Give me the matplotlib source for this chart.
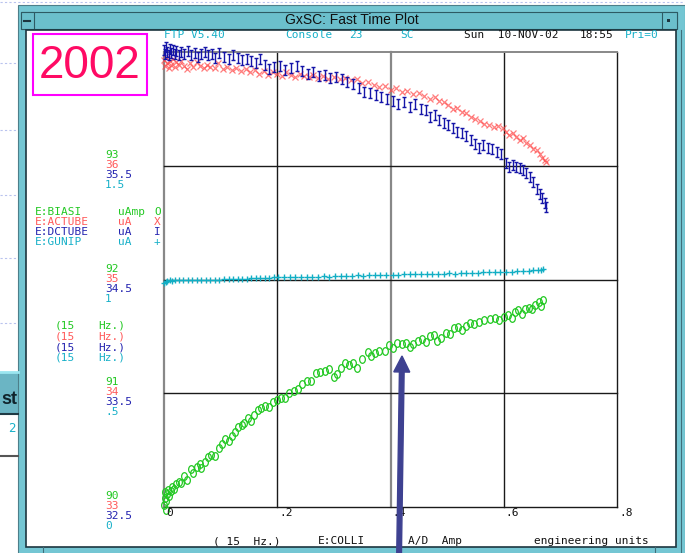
import matplotlib
matplotlib.use("Agg")

import matplotlib.pyplot as plt
from matplotlib.patches import Rectangle, FancyArrow
from matplotlib.path import Path
from matplotlib.transforms import blended_transform_factory, offset_copy, Affine2D

# ---- data ----
x_ticks = [0, 0.2, 0.4, 0.6, 0.8]
x_tick_labels = ["0", ".2", ".4", ".6", ".8"]

biasi_x = [0.000, 0.001, 0.002, 0.003, 0.004, 0.005, 0.007, 0.009, 0.012, 0.015, 0.018, 0.022,
           0.026, 0.030, 0.036, 0.041, 0.047, 0.052, 0.058, 0.063, 0.066, 0.072, 0.078, 0.083,
           0.090, 0.097, 0.103, 0.108, 0.114, 0.120, 0.125, 0.131, 0.137, 0.142, 0.148, 0.153,
           0.159, 0.166, 0.172, 0.178, 0.185, 0.192, 0.199, 0.206, 0.214, 0.221, 0.229, 0.236,
           0.244, 0.252, 0.260, 0.268, 0.276, 0.284, 0.291, 0.300, 0.306, 0.313, 0.320, 0.327,
           0.334, 0.340, 0.350, 0.360, 0.366, 0.372, 0.380, 0.390, 0.398, 0.405, 0.412, 0.420,
           0.428, 0.434, 0.440, 0.448, 0.455, 0.462, 0.470, 0.476, 0.482, 0.490, 0.498, 0.505,
           0.512, 0.520, 0.527, 0.533, 0.540, 0.548, 0.556, 0.565, 0.575, 0.585, 0.592, 0.600,
           0.608, 0.614, 0.620, 0.626, 0.632, 0.638, 0.644, 0.650, 0.656, 0.662, 0.666, 0.669]
biasi_y = [90.02, 90.08, 90.13, 89.97, 90.05, 90.11, 90.15, 90.10, 90.14, 90.18, 90.16, 90.20,
           90.22, 90.21, 90.27, 90.24, 90.33, 90.30, 90.35, 90.38, 90.34, 90.40, 90.44, 90.46,
           90.45, 90.52, 90.55, 90.60, 90.58, 90.62, 90.66, 90.70, 90.72, 90.74, 90.78, 90.76,
           90.81, 90.85, 90.87, 90.89, 90.88, 90.92, 90.94, 90.96, 90.96, 91.00, 91.02, 91.04,
           91.08, 91.11, 91.11, 91.18, 91.19, 91.20, 91.21, 91.14, 91.17, 91.22, 91.27, 91.25,
           91.27, 91.22, 91.30, 91.36, 91.33, 91.35, 91.37, 91.37, 91.42, 91.40, 91.44, 91.43,
           91.44, 91.41, 91.43, 91.46, 91.48, 91.45, 91.50, 91.51, 91.46, 91.49, 91.53, 91.52,
           91.57, 91.58, 91.56, 91.59, 91.62, 91.61, 91.63, 91.64, 91.65, 91.66, 91.64, 91.67,
           91.69, 91.66, 91.71, 91.73, 91.70, 91.74, 91.75, 91.74, 91.78, 91.80, 91.77, 91.82]

actube_x = [0.000, 0.002, 0.004, 0.006, 0.008, 0.010, 0.013, 0.016, 0.019, 0.022, 0.026, 0.030,
            0.035, 0.040, 0.046, 0.052, 0.058, 0.064, 0.070, 0.076, 0.082, 0.090, 0.096, 0.104,
            0.112, 0.120, 0.128, 0.136, 0.144, 0.152, 0.160, 0.168, 0.176, 0.184, 0.192, 0.200,
            0.208, 0.216, 0.224, 0.232, 0.240, 0.248, 0.256, 0.264, 0.272, 0.280, 0.290, 0.300,
            0.310, 0.320, 0.330, 0.340, 0.350, 0.360, 0.370, 0.380, 0.390, 0.400, 0.410, 0.420,
            0.430, 0.440, 0.450, 0.460, 0.470, 0.478, 0.486, 0.494, 0.502, 0.510, 0.518, 0.526,
            0.534, 0.542, 0.550, 0.558, 0.566, 0.574, 0.582, 0.590, 0.598, 0.604, 0.610, 0.616,
            0.622, 0.628, 0.634, 0.640, 0.646, 0.652, 0.658, 0.664, 0.668, 0.672, 0.675]
actube_y = [36.93, 36.88, 36.95, 36.90, 36.86, 36.92, 36.89, 36.94, 36.87, 36.91, 36.89, 36.92,
            36.88, 36.85, 36.90, 36.87, 36.91, 36.88, 36.86, 36.89, 36.87, 36.86, 36.90, 36.85,
            36.87, 36.84, 36.86, 36.83, 36.85, 36.82, 36.84, 36.81, 36.83, 36.80, 36.82, 36.81,
            36.79, 36.82, 36.80, 36.78, 36.81, 36.79, 36.78, 36.80, 36.77, 36.79, 36.76, 36.78,
            36.76, 36.77, 36.75, 36.76, 36.73, 36.74, 36.71, 36.69, 36.70, 36.67, 36.68, 36.65,
            36.66, 36.63, 36.64, 36.61, 36.59, 36.60, 36.57, 36.56, 36.53, 36.50, 36.51, 36.47,
            36.46, 36.43, 36.41, 36.39, 36.37, 36.36, 36.34, 36.35, 36.33, 36.30, 36.27, 36.29,
            36.25, 36.23, 36.24, 36.20, 36.18, 36.15, 36.14, 36.10, 36.07, 36.05, 36.03]

dctube_x = [0.000, 0.002, 0.004, 0.006, 0.008, 0.010, 0.013, 0.016, 0.019, 0.022, 0.026, 0.030,
            0.036, 0.042, 0.048, 0.054, 0.060, 0.066, 0.072, 0.078, 0.084, 0.090, 0.098, 0.106,
            0.114, 0.122, 0.130, 0.138, 0.146, 0.154, 0.162, 0.170, 0.178, 0.186, 0.194, 0.204,
            0.214, 0.224, 0.234, 0.244, 0.254, 0.264, 0.274, 0.284, 0.294, 0.304, 0.314, 0.324,
            0.334, 0.344, 0.354, 0.364, 0.374, 0.384, 0.394, 0.404, 0.414, 0.424, 0.434, 0.444,
            0.454, 0.462, 0.470, 0.478, 0.486, 0.494, 0.502, 0.510, 0.518, 0.526, 0.534, 0.542,
            0.550, 0.556, 0.564, 0.572, 0.580, 0.588, 0.596, 0.604, 0.610, 0.616, 0.622, 0.628,
            0.634, 0.640, 0.646, 0.652, 0.658, 0.664, 0.668, 0.672, 0.675]
dctube_y = [36.52, 36.48, 36.54, 36.50, 36.47, 36.53, 36.49, 36.52, 36.48, 36.51, 36.47, 36.50,
            36.48, 36.51, 36.47, 36.49, 36.46, 36.48, 36.50, 36.47, 36.48, 36.45, 36.49, 36.46,
            36.44, 36.47, 36.45, 36.43, 36.44, 36.42, 36.40, 36.44, 36.39, 36.35, 36.37, 36.38,
            36.34, 36.36, 36.38, 36.33, 36.31, 36.32, 36.29, 36.30, 36.27, 36.28, 36.26, 36.24,
            36.22, 36.18, 36.15, 36.14, 36.12, 36.10, 36.09, 36.07, 36.04, 36.06, 36.02, 36.04,
            36.00, 35.99, 35.93, 35.95, 35.90, 35.88, 35.86, 35.83, 35.80, 35.79, 35.76, 35.73,
            35.69, 35.66, 35.68, 35.66, 35.65, 35.62, 35.60, 35.52, 35.49, 35.51, 35.49, 35.48,
            35.46, 35.44, 35.40, 35.36, 35.30, 35.25, 35.22, 35.17, 35.14]

gunip_x = [0.000, 0.003, 0.006, 0.010, 0.015, 0.020, 0.027, 0.034, 0.042, 0.050, 0.058, 0.066,
           0.074, 0.082, 0.090, 0.098, 0.106, 0.114, 0.122, 0.130, 0.138, 0.146, 0.154, 0.162,
           0.170, 0.178, 0.186, 0.194, 0.202, 0.212, 0.222, 0.232, 0.242, 0.252, 0.262, 0.272,
           0.282, 0.292, 0.302, 0.312, 0.322, 0.332, 0.342, 0.352, 0.362, 0.372, 0.382, 0.392,
           0.404, 0.414, 0.424, 0.434, 0.444, 0.454, 0.464, 0.474, 0.484, 0.494, 0.504, 0.514,
           0.524, 0.534, 0.544, 0.554, 0.564, 0.574, 0.584, 0.594, 0.604, 0.614, 0.624, 0.634,
           0.644, 0.652, 0.660, 0.666, 0.670]
gunip_y = [0.985, 0.990, 0.994, 0.996, 0.995, 0.997, 0.996, 0.998, 0.996, 0.997, 0.998, 0.997,
           0.999, 0.998, 1.000, 0.999, 1.001, 1.002, 1.002, 1.003, 1.004, 1.004, 1.005, 1.006,
           1.007, 1.006, 1.008, 1.009, 1.010, 1.009, 1.011, 1.010, 1.012, 1.011, 1.012, 1.013,
           1.014, 1.013, 1.015, 1.016, 1.015, 1.017, 1.018, 1.017, 1.019, 1.018, 1.019, 1.020,
           1.021, 1.020, 1.022, 1.023, 1.022, 1.024, 1.023, 1.025, 1.026, 1.025, 1.027, 1.026,
           1.028, 1.029, 1.028, 1.030, 1.031, 1.032, 1.031, 1.033, 1.034, 1.035, 1.036, 1.037,
           1.039, 1.040, 1.041, 1.043, 1.044]

# scale labels per gridline (bottom to third), one list per device
biasi_labels = [90, 91, 92, 93]
actube_labels = [33, 34, 35, 36]
dctube_labels = [32.5, 33.5, 34.5, 35.5]
gunip_labels = [0, 0.5, 1, 1.5]
gunip_label_text = ["0", ".5", "1", "1.5"]

devices = ["E:BIASI", "E:ACTUBE", "E:DCTUBE", "E:GUNIP"]
units = ["uAmp", "uA", "uA", "uA"]
symbols = ["O", "X", "I", "+"]

GREEN = "#22c822"
RED = "#ff5a5a"
BLUE = "#2323b0"
CYAN = "#17b0c8"
FRAME = "#74c6d3"
MONO = "DejaVu Sans Mono"

W, H = 685, 553
fig = plt.figure(figsize=(W / 100, H / 100), dpi=100)

# background layer in pixel coordinates (window frame, desktop)
bg = fig.add_axes([0, 0, 1, 1])
bg.set_xlim(0, W)
bg.set_ylim(H, 0)
bg.axis("off")

for yy in [2, 63, 130, 195, 258, 323]:
    bg.plot([0, 16 if yy > 5 else W], [yy, yy], color="#b9c3ee", lw=0.8, ls=(0, (2, 2)))

# window behind on the left
bg.add_patch(Rectangle((0, 372), 18, 42, facecolor="#6bb5c4", edgecolor="none"))
bg.plot([0, 18], [372, 372], color="#9be6f0", lw=2)
bg.plot([0, 18], [414, 414], color="#1f3a44", lw=1.5)
bg.plot([0, 18], [456, 456], color="#555555", lw=1.5)
bg.text(17, 399, "st", fontsize=13, fontweight="bold", color="#10232b",
        ha="right", va="center", family="Liberation Sans")
bg.text(16, 428, "2", fontsize=9, color=CYAN, ha="right", va="center", family=MONO)

# main window frame
bg.add_patch(Rectangle((18, 5), W - 18, H, facecolor=FRAME, edgecolor="#4d7f8a", lw=0.8))
bg.add_patch(Rectangle((21, 12), 656, 17, facecolor="#6bbfcc", edgecolor="#2d5a64", lw=0.8))
bg.add_patch(Rectangle((21, 12), 13, 17, facecolor="#6bbfcc", edgecolor="#2d5a64", lw=0.8))
bg.plot([24.5, 30.5], [21, 21], color="#1d3640", lw=1.5)
bg.add_patch(Rectangle((662, 12), 15, 17, facecolor="#6bbfcc", edgecolor="#2d5a64", lw=0.8))
bg.add_patch(Rectangle((667.5, 19), 3, 3, facecolor="#1d3640", edgecolor="none"))
bg.text(352, 20.5, "GxSC: Fast Time Plot", fontsize=10, family="Liberation Sans",
        ha="center", va="center", color="#101010")
bg.add_patch(Rectangle((26, 30), 650, 517, facecolor="white", edgecolor="#1d3640", lw=1.2))
bg.plot([681, 681], [30, H], color="#3f6f7a", lw=0.8)
bg.plot([43, 43], [547, H], color="#3f6f7a", lw=0.8)
bg.plot([655, 655], [547, H], color="#3f6f7a", lw=0.8)

# year badge
bg.add_patch(Rectangle((33, 34), 114, 61, facecolor="none", edgecolor="#ff00ff", lw=1.5))
bg.text(90, 66, "2002", fontsize=33, family="Liberation Sans", color="#ff0a64",
        ha="center", va="center")

# header row
for xx, txt, col in [(164, "FTP V5.40", CYAN), (285, "Console", CYAN), (349, "23", CYAN),
                     (400, "SC", CYAN), (464, "Sun  10-NOV-02", "#111111"),
                     (580, "18:55", "#111111"), (625, "Pri=0", CYAN)]:
    bg.text(xx, 35, txt, fontsize=8, family=MONO, color=col, ha="left", va="center")

# device legend
colors = [GREEN, RED, BLUE, CYAN]
for i, (dev, un, sym, col) in enumerate(zip(devices, units, symbols, colors)):
    yy = 212 + i * 10
    bg.text(35, yy, dev, fontsize=8, family=MONO, color=col, va="center")
    bg.text(118, yy, un, fontsize=8, family=MONO, color=col, va="center")
    bg.text(154, yy, sym, fontsize=8, family=MONO, color=col, va="center")
    yy = 326 + i * 10.5
    bg.text(55, yy, "(15", fontsize=8, family=MONO, color=col, va="center")
    bg.text(98, yy, "Hz.)", fontsize=8, family=MONO, color=col, va="center")

# footer row
for xx, txt in [(213, "( 15  Hz.)"), (318, "E:COLLI"), (408, "A/D  Amp"),
                (534, "engineering units")]:
    bg.text(xx, 541, txt, fontsize=8, family=MONO, color="#111111", va="center")

# ---- plot: one shared x, four independent y scales ----
ax_g = fig.add_axes([164 / W, (H - 507) / H, 453 / W, 455 / H])
ax_g.set_xlim(0, 0.8)
ax_g.set_ylim(90, 94)
ax_g.patch.set_visible(False)
ax_r = ax_g.twinx()
ax_r.set_ylim(33, 37)
ax_b = ax_g.twinx()
ax_b.set_ylim(32.5, 36.5)
ax_c = ax_g.twinx()
ax_c.set_ylim(0, 2)
for a in [ax_g, ax_r, ax_b, ax_c]:
    for s in a.spines.values():
        s.set_visible(False)
    a.set_yticks([])
    a.set_xticks([])

# grid
for xv in x_ticks:
    gray = xv in (0, 0.4)
    ax_g.axvline(xv, color="#888888" if gray else "#1a1a1a", lw=1.6 if gray else 1.0,
                 clip_on=False, zorder=1)
for yv in [90, 91, 92, 93, 94]:
    ax_g.axhline(yv, color="#888888" if yv == 94 else "#1a1a1a", lw=1.4 if yv == 94 else 1.0,
                 clip_on=False, zorder=1)

xlab_tr = offset_copy(ax_g.get_xaxis_transform(), fig=fig, x=2, y=-6, units="dots")
for xv, lab in zip(x_ticks, x_tick_labels):
    ax_g.text(xv, 0, lab, transform=xlab_tr, fontsize=8, family=MONO, color="#111111",
              ha="left", va="center")

# per-device scale labels at each gridline
scale_sets = [(ax_g, biasi_labels, [str(v) for v in biasi_labels], GREEN, 11),
              (ax_r, actube_labels, [str(v) for v in actube_labels], RED, 1),
              (ax_b, dctube_labels, [str(v) for v in dctube_labels], BLUE, -9),
              (ax_c, gunip_labels, gunip_label_text, CYAN, -19)]
for a, vals, texts, col, dy in scale_sets:
    tr = offset_copy(blended_transform_factory(bg.transData, a.transData), fig=fig,
                     y=dy, units="dots")
    for v, t in zip(vals, texts):
        bg.text(105, v, t, transform=tr, fontsize=8, family=MONO, color=col, va="center")

# markers shaped like the console glyphs
o_mark = Path.unit_circle().transformed(Affine2D().scale(0.75, 1.0))
i_mark = Path([(-0.5, 1), (0.5, 1), (0, 1), (0, -1), (-0.5, -1), (0.5, -1)],
              [Path.MOVETO, Path.LINETO, Path.MOVETO, Path.LINETO, Path.MOVETO, Path.LINETO])

ax_g.plot(biasi_x, biasi_y, ls="none", marker=o_mark, ms=5.5, mfc="none", mec=GREEN,
          mew=0.9, clip_on=False)
ax_r.plot(actube_x, actube_y, ls="none", marker="x", ms=5, mec="#ff4848", mew=0.9,
          alpha=0.7, clip_on=False)
ax_b.plot(dctube_x, dctube_y, ls="none", marker=i_mark, ms=6.5, mfc="none", mec="#1414a8",
          mew=1.0, clip_on=False)
ax_c.plot(gunip_x, gunip_y, ls="none", marker="+", ms=5, mec="#12aec4", mew=1.0,
          clip_on=False)

# annotation arrow on top
fg = fig.add_axes([0, 0, 1, 1], zorder=10)
fg.set_xlim(0, W)
fg.set_ylim(H, 0)
fg.axis("off")
fg.add_patch(FancyArrow(399, 560, 3, -204, width=4.7, head_width=16, head_length=16,
                        length_includes_head=True, color="#3e4191"))

fig.savefig("out.png", dpi=100)
